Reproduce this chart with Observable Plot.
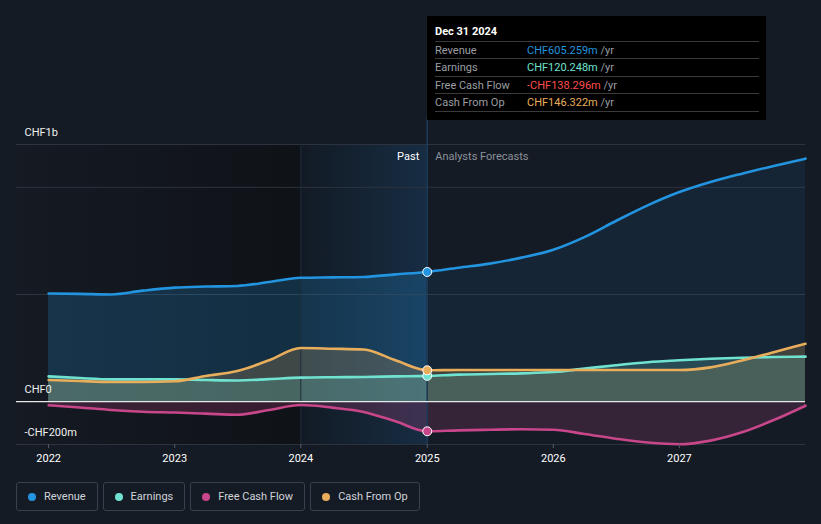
<!DOCTYPE html>
<html>
<head>
<meta charset="utf-8">
<script src="https://cdn.jsdelivr.net/npm/d3@7"></script>
<script src="https://cdn.jsdelivr.net/npm/@observablehq/plot@0.6"></script>
<style>
  html, body { margin: 0; padding: 0; background: #151b25; }
  body { width: 821px; height: 524px; overflow: hidden; font-family: Roboto, "Noto Sans", sans-serif; }
  #wrap { position: relative; width: 821px; height: 524px; }
  #chart svg { display: block; }
  #tip { position: absolute; left: 427px; top: 16px; width: 339px; height: 104px; background: #000; color: #fff; font-size: 11px; }
  #tip .title { position: absolute; left: 8px; top: 9px; font-weight: bold; font-size: 11px; }
  #tip .row { position: absolute; left: 8px; width: 324px; height: 17px; border-top: 1px solid #3a3a3a; line-height: 17px; }
  #tip .row.last { border-bottom: 1px solid #3a3a3a; }
  #tip .lab { position: absolute; left: 0; color: #9b9ea4; }
  #tip .val { position: absolute; left: 92px; }
  #tip .unit { color: #9b9ea4; }
  #legend { position: absolute; left: 16px; top: 482px; display: flex; gap: 5px; }
  #legend .item { box-sizing: border-box; height: 29px; border: 1px solid #3a404b; border-radius: 3px; display: flex; align-items: center; padding: 0 11px 0 11px; color: #d0d3d8; font-size: 11px; }
  #legend .dot { width: 8px; height: 8px; border-radius: 50%; margin-right: 8px; }
</style>
</head>
<body>
<div id="wrap">
  <div id="chart"></div>
  <div id="tip"></div>
  <div id="legend"></div>
</div>
<script>
// ---- data (CHF millions), quarterly from 2022 to end of 2027 ----
const dates = ["2022-01-01","2022-04-01","2022-07-01","2022-10-01",
  "2023-01-01","2023-04-01","2023-07-01","2023-10-01",
  "2024-01-01","2024-04-01","2024-07-01","2024-10-01",
  "2025-01-01","2025-04-01","2025-07-01","2025-10-01",
  "2026-01-01","2026-04-01","2026-07-01","2026-10-01",
  "2027-01-01","2027-04-01","2027-07-01","2027-10-01","2028-01-01"];
const revenue = [505,503,500,518,532,537,540,558,578,580,582,594,605.259,
  625,644,672,709,768,843,916,978,1025,1064,1100,1134];
const earnings = [118,110,104,104,104,101,99,105,112,114,115,118,120.248,
  126,129,132,138,154,170,184,193,200,205,208,210];
const freeCashFlow = [-17,-27,-39,-47,-51,-56,-61,-39,-16,-28,-48,-92,-138.296,
  -134,-131,-129,-131,-151,-173,-191,-199,-182,-143,-86,-19];
const cashFromOp = [101,96,92,92,95,120,143,193,250,247,243,193,146.322,
  148,148,148,148,148,148,148,148,160,192,231,270];

const seriesNames = ["Revenue","Earnings","Free Cash Flow","Cash From Op"];
const seriesColors = ["#2394df","#6fe3d0","#c8468a","#e9ae5c"];
const tipColors = ["#2394df","#6fe3d0","#ff4d4d","#e9ae5c"];
const tipDate = "Dec 31 2024";
const yearTicks = ["2022","2023","2024","2025","2026","2027"];
const yTickValues = [1200, 0, -200];
const yTickLabels = ["CHF1b","CHF0","-CHF200m"];
const gridValues = [1200, 1000, 500, -200];
const xDomain = ["2021-09-30","2028-01-01"];
const yDomain = [-200, 1200];
const pastStart = "2024-01-01";
const nowDate = "2025-01-01";

// ---- build table ----
const parse = d3.utcParse("%Y-%m-%d");
const seriesValues = [revenue, earnings, freeCashFlow, cashFromOp];
const rows = [];
seriesNames.forEach((name, i) => {
  dates.forEach((d, j) => rows.push({series: name, date: parse(d), value: seriesValues[i][j]}));
});
const now = parse(nowDate);
const bySeries = name => rows.filter(r => r.series === name);
const past = name => bySeries(name).filter(r => r.date <= now);
const fut = name => bySeries(name).filter(r => r.date >= now);
const color = name => seriesColors[seriesNames.indexOf(name)];

const x0 = parse(xDomain[0]), x1 = parse(xDomain[1]);
const areaMarks = [];
[["Revenue", 0.22, 0.09], ["Cash From Op", 0.2, 0.2], ["Earnings", 0.2, 0.2], ["Free Cash Flow", 0.22, 0.18]].forEach(([n, op1, op2]) => {
  areaMarks.push(Plot.areaY(past(n), {x: "date", y: "value", fill: color(n), fillOpacity: op1, curve: "monotone-x"}));
  areaMarks.push(Plot.areaY(fut(n), {x: "date", y: "value", fill: color(n), fillOpacity: op2, curve: "monotone-x"}));
});

const plot = Plot.plot({
  width: 821, height: 470,
  marginTop: 144, marginBottom: 26, marginLeft: 16, marginRight: 16,
  style: {background: "transparent", color: "#fff", fontFamily: "Roboto, sans-serif", fontSize: "11px"},
  x: {type: "utc", domain: [x0, x1]},
  y: {domain: yDomain, axis: null},
  marks: [
    Plot.rect([{a: x0, b: parse(pastStart)}], {x1: "a", x2: "b", y1: yDomain[0], y2: yDomain[1], fill: "url(#gA)"}),
    Plot.rect([{a: parse(pastStart), b: now}], {x1: "a", x2: "b", y1: yDomain[0], y2: yDomain[1], fill: "url(#gB)"}),
    Plot.ruleY(gridValues, {stroke: "#2c333e", strokeWidth: 1}),
    ...areaMarks,
    Plot.ruleX([parse(pastStart)], {y1: yDomain[0], y2: yDomain[1], stroke: "#1f2c3a", strokeWidth: 1}),
    Plot.ruleX([now], {y1: yDomain[0], y2: 1330, stroke: "#1d3b57", strokeWidth: 1.5}),
    Plot.ruleY([0], {stroke: "#e8e8e8", strokeWidth: 1.2}),
    Plot.line(rows, {x: "date", y: "value", z: "series", stroke: d => color(d.series), strokeWidth: 2.6, curve: "monotone-x"}),
    Plot.dot(rows.filter(r => +r.date === +now), {x: "date", y: "value", r: 4.5, fill: d => color(d.series), stroke: "#fff", strokeWidth: 1}),
    Plot.text(yTickValues, {x: x0, y: d => d, text: (d, i) => yTickLabels[i], textAnchor: "start", dx: 8, dy: -12, fill: "#f0f0f0", fontSize: 11}),
    Plot.text(["Past"], {x: now, y: yDomain[1], dx: -8, dy: 12, textAnchor: "end", fill: "#ffffff", fontSize: 11}),
    Plot.text(["Analysts Forecasts"], {x: now, y: yDomain[1], dx: 8, dy: 12, textAnchor: "start", fill: "#8b9099", fontSize: 11}),
    Plot.axisX({ticks: yearTicks.map(y => parse(y + "-01-01")), tickFormat: d3.utcFormat("%Y"), tickSize: 4, tickPadding: 6, stroke: "#555b66", fill: "#ffffff", label: null, fontSize: 11})
  ]
});

// gradients
const ns = "http://www.w3.org/2000/svg";
const defs = document.createElementNS(ns, "defs");
defs.innerHTML = `
  <linearGradient id="gA" x1="0" x2="1" y1="0" y2="0">
    <stop offset="0" stop-color="#151a23"/>
    <stop offset="1" stop-color="#0f1217"/>
  </linearGradient>
  <linearGradient id="gB" x1="0" x2="1" y1="0" y2="0">
    <stop offset="0" stop-color="#121a24"/>
    <stop offset="1" stop-color="#172d43"/>
  </linearGradient>`;
plot.insertBefore(defs, plot.firstChild);
document.getElementById("chart").appendChild(plot);

// tooltip
const tip = document.getElementById("tip");
const fmt = v => (v < 0 ? "-" : "") + "CHF" + Math.abs(v).toFixed(3) + "m";
const idx = dates.indexOf(nowDate);
let html = `<div class="title">${tipDate}</div>`;
seriesNames.forEach((n, i) => {
  const top = 25 + i * 17.4;
  html += `<div class="row${i === 3 ? " last" : ""}" style="top:${top}px"><span class="lab">${n}</span><span class="val"><span style="color:${tipColors[i]}">${fmt(seriesValues[i][idx])}</span> <span class="unit">/yr</span></span></div>`;
});
tip.innerHTML = html;

// legend
const legend = document.getElementById("legend");
seriesNames.forEach((n, i) => {
  const it = document.createElement("div");
  it.className = "item";
  it.innerHTML = `<span class="dot" style="background:${seriesColors[i]}"></span>${n}`;
  legend.appendChild(it);
});
</script>
</body>
</html>
